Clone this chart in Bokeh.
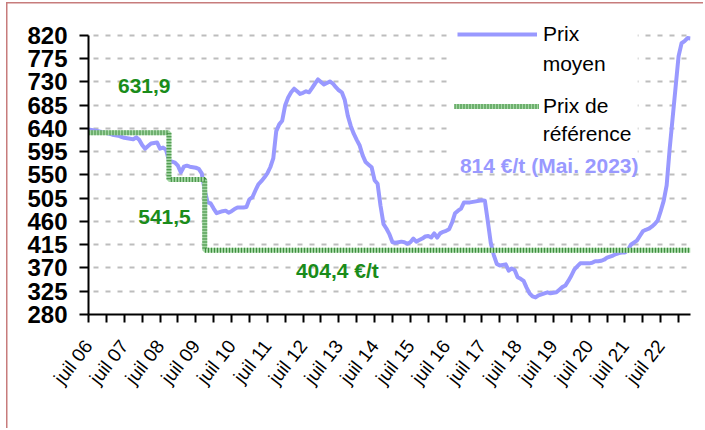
import math
from bokeh.plotting import figure
from bokeh.models import FixedTicker, Label, Legend, LegendItem, BoxAnnotation
from bokeh.embed import file_html
from bokeh.resources import INLINE

# ---------------- data ----------------
# monthly index: 0 = juil 2006 ... 202 = mai 2023
prix_moyen = [
    638, 637, 636, 635, 634, 633, 631, 630, 628, 627, 626, 624,   # 2006/07
    622, 621, 620, 619, 623, 618, 608, 601, 606, 611, 612, 613,   # 2007/08
    601, 603, 599, 578, 576, 574, 568, 555, 566, 568, 566, 565,   # 2008/09
    564, 562, 553, 520, 497, 495, 485, 476, 478, 480, 481, 477,   # 2009/10
    480, 484, 487, 487, 487, 488, 503, 507, 520, 532, 538, 545,   # 2010/11
    553, 565, 582, 635, 648, 655, 685, 700, 710, 717, 712, 707,   # 2011/12
    709, 712, 710, 718, 727, 735, 730, 725, 728, 731, 727, 720,   # 2012/13
    714, 710, 695, 665, 645, 630, 618, 607, 588, 575, 570, 565,   # 2013/14
    540, 533, 490, 455, 446, 435, 420, 419, 420, 421, 420, 417,   # 2014/15
    420, 427, 421, 424, 427, 431, 432, 429, 437, 429, 437, 440,   # 2015/16
    442, 445, 458, 476, 481, 485, 497, 497, 497, 498, 499, 500,   # 2016/17
    501, 500, 460, 418, 395, 378, 375, 376, 377, 365, 369, 366,   # 2017/18
    352, 349, 345, 332, 321, 315, 313, 317, 319, 321, 323, 321,   # 2018/19
    322, 323, 328, 333, 336, 345, 355, 367, 373, 379, 379, 379,   # 2019/20
    379, 380, 383, 383, 384, 386, 390, 392, 394, 397, 399, 400,   # 2020/21
    400, 405, 415, 419, 423, 432, 441, 444, 446, 450, 455, 462,   # 2021/22
    480, 500, 530, 600, 660, 720, 780, 805, 809, 815, 814,        # 2022/23
]
months = list(range(len(prix_moyen)))

# prix de référence (€/t) and first month of each period
ref_start = [0, 27, 39, 202]
ref_price = [631.9, 541.5, 404.4, 404.4]

y_ticks = [280, 325, 370, 415, 460, 505, 550, 595, 640, 685, 730, 775, 820]
x_ticks = list(range(0, 199, 6))
x_tick_labels = [
    "juil 06", "", "juil 07", "", "juil 08", "", "juil 09", "", "juil 10", "",
    "juil 11", "", "juil 12", "", "juil 13", "", "juil 14", "", "juil 15", "",
    "juil 16", "", "juil 17", "", "juil 18", "", "juil 19", "", "juil 20", "",
    "juil 21", "", "juil 22", "",
]

FONT = "Liberation Sans"
BLUE = "#9999ff"
GREEN_TXT = "#1a8c1a"
FRAME_COL = "#c77c7c"

# ---------------- figure ----------------
p = figure(width=703, height=428, x_range=(0, 202), y_range=(280, 858.7),
           output_backend="svg", toolbar_location=None,
           min_border_left=88, min_border_top=15, min_border_right=13,
           min_border_bottom=114)
p.outline_line_color = None
p.background_fill_color = "white"
p.border_fill_alpha = 0
# chart-area frame: only its left and top edges fall inside the picture
grad = f"linear-gradient({FRAME_COL}, {FRAME_COL})"
p.styles = {
    "background-color": "white",
    "background-image": f"{grad}, {grad}",
    "background-size": "1.5px 100%, 100% 1.5px",
    "background-position": "6px 2px, 6px 2px",
    "background-repeat": "no-repeat",
}

blue = p.line(months, prix_moyen, line_color=BLUE, line_width=4, line_join="round")
g1 = p.step(ref_start, ref_price, mode="after", line_color="#a3d6a3", line_width=5)
g2 = p.step(ref_start, ref_price, mode="after", line_color="#3a8a3a", line_width=5,
            line_dash="1 2")

# axes
p.xaxis.ticker = FixedTicker(ticks=x_ticks)
p.xaxis.major_label_overrides = {t: lab for t, lab in zip(x_ticks, x_tick_labels)}
p.xaxis.major_label_orientation = math.radians(52)
p.xaxis.major_label_text_font = FONT
p.xaxis.major_label_text_font_size = "19px"
p.xaxis.major_label_text_color = "black"
p.xaxis.major_label_standoff = 20
p.yaxis.ticker = FixedTicker(ticks=y_ticks)
p.yaxis.bounds = (280, 820)
p.yaxis.major_label_text_font = FONT
p.yaxis.major_label_text_font_size = "24px"
p.yaxis.major_label_text_font_style = "bold"
p.yaxis.major_label_text_color = "black"
p.yaxis.major_label_standoff = 12
for ax in (p.xaxis, p.yaxis):
    ax.axis_line_color = "black"
    ax.axis_line_width = 2
    ax.major_tick_line_color = "black"
    ax.major_tick_line_width = 2
    ax.major_tick_in = 0
    ax.minor_tick_line_color = None
p.xaxis.major_tick_out = 8
p.yaxis.major_tick_out = 9

p.xgrid.grid_line_color = None
p.ygrid.ticker = FixedTicker(ticks=y_ticks)
p.ygrid.grid_line_color = "#bdbdbd"
p.ygrid.grid_line_width = 2
p.ygrid.grid_line_dash = "5 7"
p.ygrid.grid_line_dash_offset = 7

# legend background
p.add_layout(BoxAnnotation(left=120.9, right=184.3, bottom=591.6,
                           fill_color="white", fill_alpha=1.0, line_color=None))

common = dict(padding=0, margin=0, spacing=0, border_line_color=None,
              background_fill_alpha=0, label_text_font=FONT,
              label_text_font_size="21px", label_text_color="black",
              glyph_height=20, label_height=20)
leg1 = Legend(items=[LegendItem(label="Prix", renderers=[blue])],
              location=(369, 268), glyph_width=80, label_standoff=6, **common)
leg2 = Legend(items=[LegendItem(label="Prix de", renderers=[g1, g2])],
              location=(366, 196), glyph_width=85, label_standoff=4, **common)
p.add_layout(leg1)
p.add_layout(leg2)

for txt, xx, yy in [("moyen", 152.4, 765.8), ("référence", 152.4, 630.3)]:
    p.add_layout(Label(x=xx, y=yy, text=txt, text_font=FONT, text_font_size="21px",
                       text_color="black", text_align="left", text_baseline="middle"))

annots = [
    ("631,9", 18.7, 723.2, GREEN_TXT),
    ("541,5", 25.5, 468.7, GREEN_TXT),
    ("404,4 €/t", 83.5, 364.2, GREEN_TXT),
    ("814 €/t (Mai. 2023)", 154.6, 568.4, BLUE),
]
for txt, xx, yy, col in annots:
    p.add_layout(Label(x=xx, y=yy, text=txt, text_font=FONT, text_font_size="21px",
                       text_font_style="bold", text_color=col,
                       text_align="center", text_baseline="middle"))

open("out.html", "w").write(file_html(p, INLINE))
